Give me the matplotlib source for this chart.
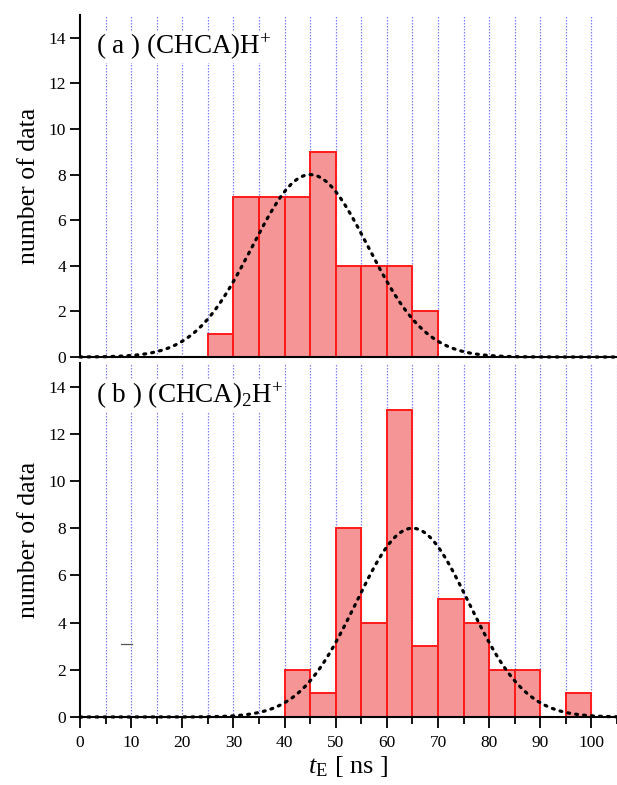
import matplotlib
matplotlib.use("Agg")
import matplotlib.pyplot as plt
import numpy as np

plt.rcParams['font.family'] = ['Liberation Serif', 'DejaVu Serif']
plt.rcParams['mathtext.fontset'] = 'custom'
plt.rcParams['mathtext.rm'] = 'Liberation Serif'
plt.rcParams['mathtext.it'] = 'Liberation Serif:italic'

# histogram bins (left edges, width 5 ns)
bin_edges = [0, 5, 10, 15, 20, 25, 30, 35, 40, 45, 50, 55, 60, 65, 70, 75, 80, 85, 90, 95, 100]
counts_a = [0, 0, 0, 0, 0, 1, 7, 7, 7, 9, 4, 4, 4, 2, 0, 0, 0, 0, 0, 0]
counts_b = [0, 0, 0, 0, 0, 0, 0, 0, 2, 1, 8, 4, 13, 3, 5, 4, 2, 2, 0, 1]

# gaussian fit parameters: amplitude, centre, sigma
fit_a = (8.0, 45.0, 11.3)
fit_b = (8.0, 65.0, 11.0)

labels = ['( a ) (CHCA)H$^{+}$', '( b ) (CHCA)$_{2}$H$^{+}$']

fig = plt.figure(figsize=(6.17, 7.85), dpi=100)
ax1 = fig.add_axes([0.1297, 0.5452, 0.8703, 0.4357])
ax2 = fig.add_axes([0.1297, 0.0866, 0.8703, 0.4510])

fill = '#f59595'
edge = '#ff1a1a'
grid_c = '#8080ff'

for ax, counts, fit, lab in [(ax1, counts_a, fit_a, labels[0]), (ax2, counts_b, fit_b, labels[1])]:
    ax.set_xlim(0, 105)
    ax.set_ylim(0, 15)
    for gx in range(5, 106, 5):
        ax.axvline(gx, color=grid_c, lw=0.9, ls=(0, (1.2, 1.2)), zorder=0)
    lefts = bin_edges[:-1]
    for l, c in zip(lefts, counts):
        if c > 0:
            ax.bar(l, c, width=5, align='edge', color=fill, edgecolor=edge, lw=1.4, zorder=2)
    amp, mu, sig = fit
    xs = np.linspace(0, 105, 400)
    ax.plot(xs, amp * np.exp(-(xs - mu) ** 2 / (2 * sig ** 2)), color='black', lw=2.3,
            ls=(0, (0.6, 1.9)), dash_capstyle='round', zorder=3, clip_on=False)
    for s in ['top', 'right']:
        ax.spines[s].set_visible(False)
    ax.spines['left'].set_linewidth(1.5)
    ax.spines['bottom'].set_linewidth(1.5)
    ax.set_yticks(range(0, 15, 2))
    ax.tick_params(axis='y', direction='out', length=7, width=1.3, labelsize=12.5, pad=3)
    ax.set_ylabel('number of data', fontsize=18.5, labelpad=6)
    ax.text(3.2, 13.6, lab, fontsize=19.5, va='center', ha='left', zorder=5,
            bbox=dict(facecolor='white', edgecolor='none', pad=1))

ax1.tick_params(axis='x', bottom=False, labelbottom=False)
ax2.set_xticks(range(0, 101, 10))
ax2.set_xticks(range(5, 106, 10), minor=True)
ax2.tick_params(axis='x', which='major', direction='out', length=8, width=1.3, labelsize=12.5, pad=5)
ax2.tick_params(axis='x', which='minor', direction='out', length=5, width=1.3)
ax2.set_xlabel('$\\it{t}$$_{\\rm E}$ [ ns ]', fontsize=19, labelpad=2)

# small stray mark in panel (b)
ax2.plot([8.0, 10.2], [3.1, 3.1], color='#555555', lw=0.9, zorder=3)

fig.savefig('out.png', dpi=100)
